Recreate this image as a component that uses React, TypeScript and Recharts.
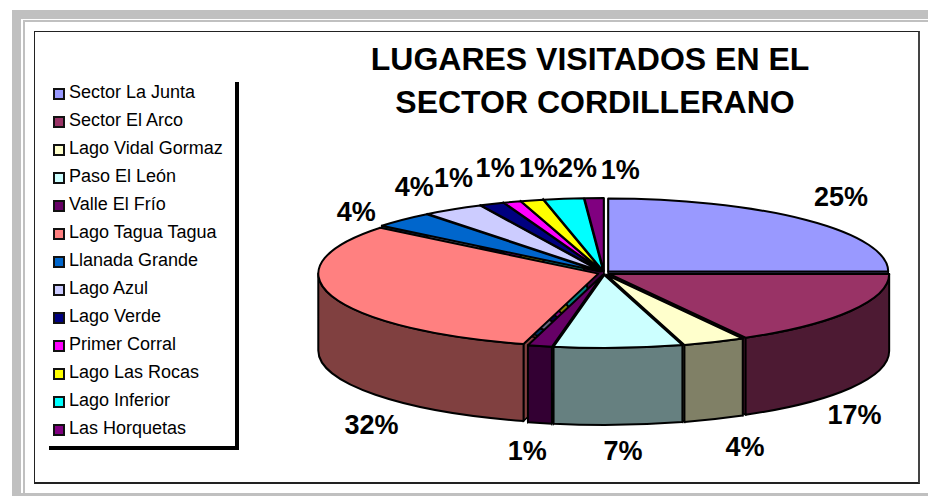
import React from "react";
import { PieChart, Pie } from "recharts";

const categories = [
  "Sector La Junta", "Sector El Arco", "Lago Vidal Gormaz", "Paso El León", "Valle El Frío",
  "Lago Tagua Tagua", "Llanada Grande", "Lago Azul", "Lago Verde", "Primer Corral",
  "Lago Las Rocas", "Lago Inferior", "Las Horquetas",
];
const shares = [25, 16.9, 3.6, 7.4, 1.4, 31.5, 3.6, 3.5, 1.4, 1, 1.3, 2.3, 1.1];
const colors = [
  "#9999FF", "#993366", "#FFFFCC", "#CCFFFF", "#660066", "#FF8080", "#0066CC",
  "#CCCCFF", "#000080", "#FF00FF", "#FFFF00", "#00FFFF", "#800080",
];
const wallColors = [
  "#4D4D80", "#4D1A33", "#808066", "#668080", "#330033", "#804040", "#003366",
  "#666680", "#000040", "#800080", "#808000", "#008080", "#400040",
];
const title = ["LUGARES VISITADOS EN EL", "SECTOR CORDILLERANO"];

const data = categories.map((name, i) => ({ name, value: shares[i], fill: colors[i], wall: wallColors[i] }));

const W = 928, H = 496;
const CX = 604, CY = 273, RX = 280, RY = 73, DEPTH = 77;

// label placement relative to the slice's rim point
const labelNudge: [number, number][] = [
  [39, -24], [9, 31], [33, 33], [5, 31], [-14, 33], [34, 56], [-51, -9],
  [-42, -24], [-41, -28], [-19, -36], [5, -34], [13, -33], [26, -30],
];

const rad = (a: number) => (a * Math.PI) / 180;
const pt = (a: number, ox: number, oy: number) => [ox + RX * Math.cos(rad(a)), oy - RY * Math.sin(rad(a))];

function explode(start: number, end: number) {
  const m = rad((start + end) / 2);
  return [6 * Math.cos(m), -2 * Math.sin(m)];
}

function TopShape(p: any) {
  const { startAngle: s, endAngle: e, fill } = p;
  const [dx, dy] = explode(s, e);
  const ox = CX + dx, oy = CY + dy;
  const [x1, y1] = pt(s, ox, oy);
  const [x2, y2] = pt(e, ox, oy);
  const large = s - e > 180 ? 1 : 0;
  return (
    <path
      d={`M${ox},${oy}L${x1},${y1}A${RX},${RY} 0 ${large} 1 ${x2},${y2}Z`}
      fill={fill} stroke="#000" strokeWidth={2} strokeLinejoin="round"
    />
  );
}

function WallShape(p: any) {
  const { startAngle: s, endAngle: e, payload } = p;
  const a1 = Math.min(s, 0), a2 = Math.max(e, -180);
  if (a1 <= a2) return <g />;
  const [dx, dy] = explode(s, e);
  const ox = CX + dx, oy = CY + dy;
  const [x1, y1] = pt(a1, ox, oy);
  const [x2, y2] = pt(a2, ox, oy);
  return (
    <path
      d={`M${x1},${y1}A${RX},${RY} 0 0 1 ${x2},${y2}L${x2},${y2 + DEPTH}A${RX},${RY} 0 0 0 ${x1},${y1 + DEPTH}Z`}
      fill={payload?.wall ?? p.wall} stroke="#000" strokeWidth={2} strokeLinejoin="round"
    />
  );
}

function FaceShape(p: any) {
  const { startAngle: s, endAngle: e, payload } = p;
  const [dx, dy] = explode(s, e);
  const ox = CX + dx, oy = CY + dy;
  const quad = (a: number) => {
    const [x, y] = pt(a, ox, oy);
    return `M${ox},${oy}L${x},${y}L${x},${y + DEPTH}L${ox},${oy + DEPTH}Z`;
  };
  return (
    <g fill={payload?.wall ?? p.wall} stroke="#000" strokeWidth={1.5}>
      <path d={quad(s)} />
      <path d={quad(e)} />
    </g>
  );
}

function PctLabel(p: any) {
  const { midAngle, index, value } = p;
  const [x, y] = pt(midAngle, CX, CY);
  const front = Math.sin(rad(midAngle)) < 0;
  const [nx, ny] = labelNudge[index];
  return (
    <text
      x={x + nx} y={y + (front ? DEPTH - 3 : 0) + ny} textAnchor="middle" dominantBaseline="central"
      fontFamily="Liberation Sans" fontWeight="bold" fontSize={27} fill="#000"
    >
      {Math.round(value)}%
    </text>
  );
}

function LegendBox() {
  return (
    <div style={{ position: "absolute", left: 49, top: 82, width: 190, height: 368, boxSizing: "border-box", borderRight: "4px solid #000", borderBottom: "4px solid #000", fontFamily: "Liberation Sans", fontSize: 18, color: "#000" }}>
      {data.map((d, i) => (
        <div key={d.name} style={{ position: "absolute", left: 4, top: 2 + i * 28, height: 16, display: "flex", alignItems: "center", whiteSpace: "nowrap" }}>
          <span style={{ display: "inline-block", width: 12, height: 12, boxSizing: "border-box", border: "2px solid #111", background: d.fill, marginRight: 4, marginTop: 4 }} />
          <span>{d.name}</span>
        </div>
      ))}
    </div>
  );
}

export default function App() {
  return (
    <div style={{ position: "fixed", left: 0, top: 0, width: W, height: H, background: "#fff", overflow: "hidden" }}>
      <div style={{ position: "absolute", left: 12, top: 10, right: 0, height: 9, background: "#C0C0C0" }} />
      <div style={{ position: "absolute", left: 12, top: 10, bottom: 0, width: 9, background: "#C0C0C0" }} />
      <div style={{ position: "absolute", left: 23, top: 20, right: 0, height: 2, background: "#C0C0C0" }} />
      <div style={{ position: "absolute", left: 23, top: 20, bottom: 0, width: 2, background: "#C0C0C0" }} />
      <div style={{ position: "absolute", left: 12, bottom: 0, right: 0, height: 3, background: "#C0C0C0" }} />
      <div style={{ position: "absolute", left: 34, top: 31, width: 886, height: 453, boxSizing: "border-box", borderTop: "1.5px solid #222", borderLeft: "1.5px solid #222", borderBottom: "2px solid #222", borderRight: "2.5px solid #444" }} />
      <div style={{ position: "absolute", left: 340, top: 38, width: 500, textAlign: "center", fontFamily: "Liberation Sans", fontWeight: "bold", fontSize: 32, lineHeight: "43px", color: "#000" }}>
        {title.map((t, i) => <div key={t} style={{ position: "relative", left: i === 1 ? 5 : 0 }}>{t}</div>)}
      </div>
      <PieChart width={W} height={H} style={{ position: "absolute", left: 0, top: 0 }}>
        <Pie data={data} dataKey="value" nameKey="name" cx={CX} cy={CY} outerRadius={RX} startAngle={90} endAngle={-270} isAnimationActive={false} shape={FaceShape} />
        <Pie data={data} dataKey="value" nameKey="name" cx={CX} cy={CY} outerRadius={RX} startAngle={90} endAngle={-270} isAnimationActive={false} shape={WallShape} />
        <Pie data={data} dataKey="value" nameKey="name" cx={CX} cy={CY} outerRadius={RX} startAngle={90} endAngle={-270} isAnimationActive={false} shape={TopShape} label={PctLabel} labelLine={false} />
      </PieChart>
      <LegendBox />
    </div>
  );
}
